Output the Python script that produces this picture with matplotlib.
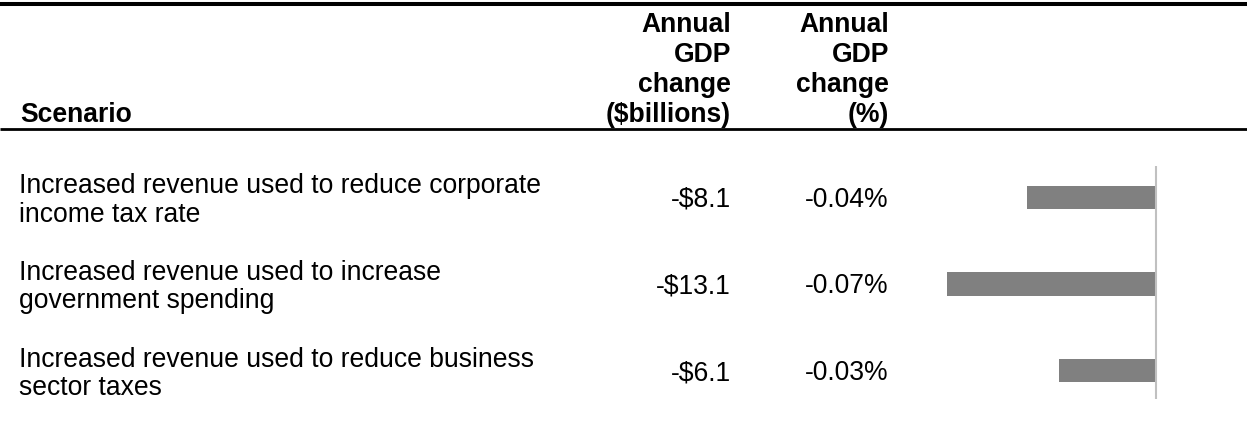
import matplotlib
matplotlib.use("Agg")
import matplotlib.pyplot as plt

from matplotlib import rcParams
rcParams['font.family'] = ['Liberation Sans', 'DejaVu Sans']

# table data
scenarios = ["Increased revenue used to reduce corporate\nincome tax rate",
             "Increased revenue used to increase\ngovernment spending",
             "Increased revenue used to reduce business\nsector taxes"]
gdp_billions = [-8.1, -13.1, -6.1]
gdp_pct = [-0.04, -0.07, -0.03]
header_scenario = "Scenario"
header_billions = "Annual\nGDP\nchange\n($billions)"
header_pct = "Annual\nGDP\nchange\n(%)"

W, H = 1247, 435
fig = plt.figure(figsize=(W / 100, H / 100), dpi=100)

# full-figure axes in pixel coords for the table text and rules
ax = fig.add_axes([0, 0, 1, 1])
ax.set_xlim(0, W)
ax.set_ylim(H, 0)
ax.axis('off')

fs = 19.1
ax.plot([0, W], [5, 5], color='black', lw=2.9, solid_capstyle='butt')
ax.plot([0, W], [129.5, 129.5], color='black', lw=2.0, solid_capstyle='butt')

# header
hdr_base = [32, 62, 92, 122]
ax.text(20, hdr_base[-1], header_scenario, fontsize=fs, fontweight='bold',
        ha='left', va='baseline')
for col_x, hdr in [(731, header_billions), (889, header_pct)]:
    for line, yb in zip(hdr.split("\n"), hdr_base):
        ax.text(col_x, yb, line, fontsize=fs, fontweight='bold',
                ha='right', va='baseline')

# body rows
row0, row_step = 198.3, 86.7
for i, (name, b, p) in enumerate(zip(scenarios, gdp_billions, gdp_pct)):
    yc = row0 + i * row_step
    l1, l2 = name.split("\n")
    ax.text(19, yc - 5, l1, fontsize=fs, ha='left', va='baseline')
    ax.text(19, yc + 23.4, l2, fontsize=fs, ha='left', va='baseline')
    ax.text(731, yc + 8.5, "-$%.1f" % abs(b), fontsize=fs, ha='right', va='baseline')
    ax.text(889, yc + 8.5, "-%.2f%%" % abs(p), fontsize=fs, ha='right', va='baseline')

# bar axes: zero at x=1156 px, ~15.9 px per $billion
left, right, top, bottom = 930, 1200, 167, 400
bax = fig.add_axes([left / W, 1 - bottom / H, (right - left) / W, (bottom - top) / H])
scale = 15.92
bax.set_xlim(-(1156 - left) / scale, (right - 1156) / scale)
bax.set_ylim((bottom - row0) / row_step, -(row0 - top) / row_step)
bax.barh(range(len(gdp_billions)), gdp_billions, height=23.3 / row_step,
         color='#808080', zorder=2)
bax.axvline(0, color='#c0c0c0', lw=1.5, zorder=3)
bax.axis('off')

plt.savefig("out.png", dpi=100)
